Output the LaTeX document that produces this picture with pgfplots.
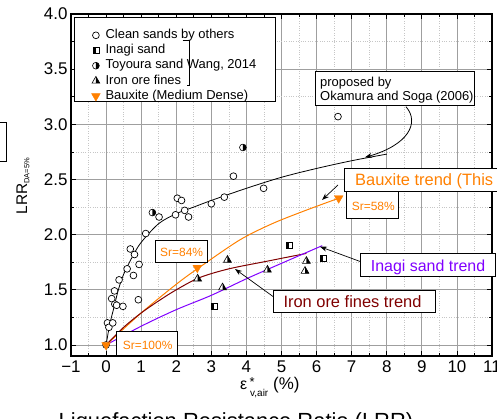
\documentclass[border=0pt]{standalone}
\usepackage{fontspec}
\setmainfont{Liberation Sans}
\usepackage{pgfplots}
\pgfplotsset{compat=1.18}
\usetikzlibrary{arrows.meta}
\definecolor{bxorange}{RGB}{255,128,0}
\definecolor{inpurple}{RGB}{128,0,255}
\definecolor{irred}{RGB}{128,0,0}
\pgfdeclareplotmark{hsqL}{%
 \pgfpathrectangle{\pgfpoint{-\pgfplotmarksize}{-\pgfplotmarksize}}{\pgfpoint{2\pgfplotmarksize}{2\pgfplotmarksize}}%
 \pgfsetfillcolor{white}\pgfusepath{fill}%
 \pgfpathrectangle{\pgfpoint{-\pgfplotmarksize}{-\pgfplotmarksize}}{\pgfpoint{\pgfplotmarksize}{2\pgfplotmarksize}}%
 \pgfsetfillcolor{black}\pgfusepath{fill}%
 \pgfpathrectangle{\pgfpoint{-\pgfplotmarksize}{-\pgfplotmarksize}}{\pgfpoint{2\pgfplotmarksize}{2\pgfplotmarksize}}%
 \pgfusepath{stroke}}
\pgfdeclareplotmark{hcirR}{%
 \pgfpathcircle{\pgfpointorigin}{\pgfplotmarksize}\pgfsetfillcolor{white}\pgfusepath{fill}%
 \pgfpathmoveto{\pgfpoint{0pt}{\pgfplotmarksize}}%
 \pgfpatharc{90}{-90}{\pgfplotmarksize}\pgfpathclose
 \pgfsetfillcolor{black}\pgfusepath{fill}%
 \pgfpathcircle{\pgfpointorigin}{\pgfplotmarksize}\pgfusepath{stroke}}
\pgfdeclareplotmark{htriR}{%
 \pgfpathmoveto{\pgfpoint{0pt}{\pgfplotmarksize}}%
 \pgfpathlineto{\pgfpoint{-0.866\pgfplotmarksize}{-0.5\pgfplotmarksize}}%
 \pgfpathlineto{\pgfpoint{0.866\pgfplotmarksize}{-0.5\pgfplotmarksize}}\pgfpathclose
 \pgfsetfillcolor{white}\pgfusepath{fill}%
 \pgfpathmoveto{\pgfpoint{0pt}{\pgfplotmarksize}}%
 \pgfpathlineto{\pgfpoint{0pt}{-0.5\pgfplotmarksize}}%
 \pgfpathlineto{\pgfpoint{0.866\pgfplotmarksize}{-0.5\pgfplotmarksize}}\pgfpathclose
 \pgfsetfillcolor{black}\pgfusepath{fill}%
 \pgfpathmoveto{\pgfpoint{0pt}{\pgfplotmarksize}}%
 \pgfpathlineto{\pgfpoint{-0.866\pgfplotmarksize}{-0.5\pgfplotmarksize}}%
 \pgfpathlineto{\pgfpoint{0.866\pgfplotmarksize}{-0.5\pgfplotmarksize}}\pgfpathclose
 \pgfusepath{stroke}}
\begin{document}
\begin{tikzpicture}[>={Stealth[length=7bp,width=5bp]}]
\useasboundingbox (0,0) rectangle (497bp,419bp);
\clip (0,0) rectangle (497bp,419bp);
\begin{axis}[
 at={(71bp,63bp)}, anchor=south west,
 scale only axis, width=421bp, height=342bp,
 xmin=-1, xmax=11, ymin=0.9, ymax=4.0,
 xtick={-1,0,...,11}, xticklabels={−1,0,1,2,3,4,5,6,7,8,9,10,11},
 ytick={1,1.5,2,2.5,3,3.5,4}, yticklabels={1.0,1.5,2.0,2.5,3.0,3.5,4.0},
 minor x tick num=1, minor y tick num=1,
 grid=both,
 major grid style={gray!75, line width=0.7pt},
 minor grid style={gray!45, dotted, line width=0.6pt},
 tick align=inside, major tick length=5bp, minor tick length=3bp,
 tick style={black, line width=0.8pt},
 axis line style={line width=1.2pt},
 xticklabel style={font=\fontsize{17}{20}\selectfont, yshift=-1bp},
 yticklabel style={font=\fontsize{17}{20}\selectfont},
 legend style={at={(rel axis cs:0.0392,0.9605)}, anchor=north west, draw=none, fill=none,
   inner sep=0pt, font=\fontsize{13}{15}\selectfont,
   nodes={inner sep=1.5bp, text height=9.2bp, text depth=3bp},
   /tikz/every even column/.append style={column sep=10bp}},
 legend cell align=left,
 legend image code/.code={\path (0bp,0bp) (16bp,0bp); \draw[#1] plot coordinates {(8bp,0bp)};},
]
\filldraw[fill=white, draw=black, line width=0.8pt] (rel axis cs:0.0071,0.9904) rectangle (rel axis cs:0.4846,0.7436);
\addplot[only marks, mark=*, mark size=3.4bp, mark options={fill=white, draw=black, line width=0.7pt}] coordinates {
 (0.0,1.0)(0.04,1.20)(0.08,1.16)(0.19,1.20)(0.16,1.42)(0.24,1.49)(0.25,1.37)(0.30,1.36)(0.48,1.35)
 (0.37,1.59)(0.60,1.69)(0.69,1.87)(0.81,1.82)(0.78,1.63)(0.92,1.41)(0.94,1.73)(1.13,2.01)(1.51,2.16)
 (1.98,2.18)(2.03,2.33)(2.15,2.31)(2.24,2.22)(2.35,2.16)(3.0,2.28)(3.37,2.34)(3.63,2.53)(4.49,2.42)(6.61,3.07)};
\addlegendentry{Clean sands by others}
\addplot[only marks, mark=hsqL, mark size=3bp, mark options={draw=black, line width=0.6pt}] coordinates {
 (3.09,1.35)(5.21,1.90)(6.18,1.79)};
\addlegendentry{Inagi sand}
\addplot[only marks, mark=hcirR, mark size=3.4bp, mark options={draw=black, line width=0.6pt}] coordinates {
 (1.32,2.20)(3.9,2.79)};
\addlegendentry{Toyoura sand Wang, 2014}
\addplot[only marks, mark=htriR, mark size=4.5bp, mark options={draw=black, line width=0.6pt}] coordinates {
 (2.61,1.60)(3.46,1.77)(3.32,1.52)(4.60,1.68)(5.71,1.76)(5.67,1.67)};
\addlegendentry{Iron ore fines}
\addplot[only marks, mark=triangle*, mark size=5bp, mark options={fill=bxorange, draw=bxorange, rotate=180}] coordinates {
 (0,1.0)(2.6,1.70)(6.63,2.33)};
\addlegendentry{Bauxite (Medium Dense)}
% trend curves
\addplot[forget plot, black, line width=0.8pt, smooth, tension=0.5] coordinates {
 (0,1.0)(0.1,1.18)(0.2,1.31)(0.35,1.50)(0.5,1.64)(0.75,1.80)(1,1.93)(1.5,2.10)(2,2.19)(2.5,2.25)(3,2.31)(4,2.42)(5,2.52)(6,2.60)(7,2.67)(8,2.73)};
\addplot[forget plot, bxorange, line width=1pt, smooth, tension=0.5] coordinates {
 (0,1.0)(1,1.29)(2,1.55)(2.6,1.69)(3.8,1.95)(4.74,2.10)(5.69,2.22)(6.63,2.33)};
\addplot[forget plot, irred, line width=1pt, smooth, tension=0.5] coordinates {
 (0,1.0)(0.5,1.16)(1,1.29)(1.5,1.40)(2,1.50)(2.66,1.61)(3.5,1.69)(4.6,1.76)(5.71,1.83)};
\addplot[forget plot, inpurple, line width=1pt, smooth, tension=0.5] coordinates {
 (0,1.0)(1,1.17)(2,1.32)(3,1.45)(4,1.60)(5,1.74)(6.16,1.90)};
\end{axis}
% legend bracket
\draw[line width=0.6pt] (182.7bp,378.3bp) -- (189.3bp,378.3bp) -- (189.3bp,334bp) -- (186.7bp,334bp);
% partial left box
\draw[line width=0.8pt, fill=white] (-5bp,257.3bp) rectangle (6.7bp,296.7bp);
% Okamura box
\draw[line width=0.8pt, fill=white] (315.7bp,313.3bp) rectangle (474bp,348bp);
\node[anchor=base west, inner sep=0pt, font=\fontsize{13}{15}\selectfont] at (320bp,332.3bp) {proposed by};
\node[anchor=base west, inner sep=0pt, font=\fontsize{13}{15}\selectfont] at (320bp,318.3bp) {Okamura and Soga (2006)};
\draw[->, line width=0.8pt] (406bp,312.3bp) .. controls (420bp,296bp) and (408bp,274bp) .. (365bp,261.7bp);
% Bauxite boxes
\draw[line width=0.8pt, fill=white] (344.3bp,227.3bp) rectangle (560bp,250.7bp);
\node[anchor=base west, inner sep=0pt, text=bxorange, font=\fontsize{16.5}{19}\selectfont] at (355bp,233bp) {Bauxite trend (This study)};
\draw[->, line width=0.7pt] (338bp,234bp) -- (322bp,219bp);
\draw[line width=0.8pt, fill=white] (346.7bp,200.7bp) rectangle (398.3bp,227.3bp);
\node[anchor=base west, inner sep=0pt, text=bxorange, font=\fontsize{12}{14}\selectfont] at (351.7bp,208.3bp) {Sr=58\%};
\draw[line width=0.8pt, fill=white] (155.3bp,156.3bp) rectangle (207.3bp,179bp);
\node[anchor=base west, inner sep=0pt, text=bxorange, font=\fontsize{12}{14}\selectfont] at (160bp,162.3bp) {Sr=84\%};
\draw[line width=0.8pt, fill=white] (116.7bp,64bp) rectangle (177.7bp,87.3bp);
\node[anchor=base west, inner sep=0pt, text=bxorange, font=\fontsize{12}{14}\selectfont] at (122.7bp,69.7bp) {Sr=100\%};
% Inagi box
\draw[line width=0.8pt, fill=white] (360.7bp,142.3bp) rectangle (495.5bp,165.7bp);
\node[anchor=base west, inner sep=0pt, text=inpurple, font=\fontsize{16}{19}\selectfont] at (370.7bp,147.3bp) {Inagi sand trend};
\draw[->, line width=0.7pt] (360.7bp,157.3bp) -- (320bp,172.3bp);
% Iron box
\draw[line width=0.8pt, fill=white] (273.3bp,106.3bp) rectangle (435bp,128.3bp);
\node[anchor=base west, inner sep=0pt, text=irred, font=\fontsize{16.5}{19}\selectfont] at (283.3bp,111.7bp) {Iron ore fines trend};
\draw[->, line width=0.7pt] (273.3bp,122.3bp) -- (235bp,150bp);
% axis labels
\node[rotate=90, inner sep=0pt] at (23bp,233bp) {\fontsize{15.5}{18}\selectfont LRR\textsubscript{\fontsize{7.5}{9}\selectfont DA=5\%}};
\node[anchor=base west, inner sep=0pt, font=\fontsize{16}{19}\selectfont] at (240bp,30bp) {ε};
\node[anchor=base west, inner sep=0pt, font=\fontsize{13}{15}\selectfont] at (249.5bp,33bp) {*};
\node[anchor=base west, inner sep=0pt, font=\fontsize{10}{12}\selectfont] at (250bp,23bp) {v,air};
\node[anchor=base west, inner sep=0pt, font=\fontsize{17}{20}\selectfont] at (273bp,30bp) {(\%)};
\node[anchor=base, inner sep=0pt] at (236bp,-9bp) {\fontsize{22}{26}\selectfont Liquefaction Resistance Ratio (LRR)};
\end{tikzpicture}
\end{document}
